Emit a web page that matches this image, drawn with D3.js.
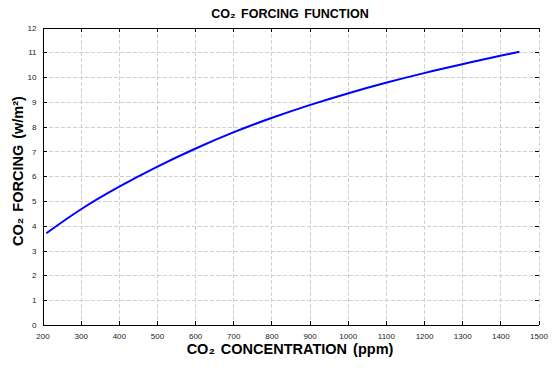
<!DOCTYPE html>
<html>
<head>
    <title>CO2 Forcing Function - D3.js</title>
    <script src="https://d3js.org/d3.v7.min.js"></script>
    <style>
        body { margin: 0; background: #fff; }
        svg { display: block; font-family: "Liberation Sans", Arial, sans-serif; }
        .grid line { stroke: #d0d0d0; stroke-dasharray: 4,2; shape-rendering: crispEdges; }
        .grid path { display: none; }
        .axis path, .axis line { stroke: #000; shape-rendering: crispEdges; }
        .axis text { font-size: 8px; fill: #222; }
        .title { font-size: 12.5px; font-weight: bold; text-anchor: middle; word-spacing: 2px; }
        .axis-title { font-size: 14.5px; font-weight: bold; text-anchor: middle; word-spacing: 2px; }
    </style>
</head>
<body>
<div id="chart"></div>
<script>
    // data
    const ppm = [210, 300, 400, 500, 600, 700, 800, 900, 1000, 1100, 1200, 1300, 1400, 1450];
    const forcing = [3.70, 4.66, 5.57, 6.38, 7.11, 7.77, 8.35, 8.87, 9.34, 9.77, 10.16, 10.52, 10.86, 11.02];
    const xTicks = d3.range(200, 1501, 100);
    const yTicks = d3.range(0, 13, 1);

    const W = 559, H = 368;
    const margin = { top: 27.5, right: 20.5, bottom: 43, left: 42.5 };
    const width = W - margin.left - margin.right;
    const height = H - margin.top - margin.bottom;

    const svg = d3.select("#chart").append("svg")
        .attr("width", W).attr("height", H);
    const g = svg.append("g")
        .attr("transform", `translate(${margin.left},${margin.top})`);

    const x = d3.scaleLinear().domain([200, 1500]).range([0, width]);
    const y = d3.scaleLinear().domain([0, 12]).range([height, 0]);

    // grid
    g.append("g").attr("class", "grid")
        .call(d3.axisBottom(x).tickValues(xTicks.slice(1)).tickSize(height).tickFormat(""));
    g.append("g").attr("class", "grid")
        .call(d3.axisRight(y).tickValues(yTicks.slice(1)).tickSize(width).tickFormat(""));

    // axes
    const fmt = d3.format("d");
    g.append("g").attr("class", "axis")
        .attr("transform", `translate(0,${height})`)
        .call(d3.axisBottom(x).tickValues(xTicks).tickFormat(fmt).tickSizeInner(-4).tickSizeOuter(0).tickPadding(8));
    g.append("g").attr("class", "axis")
        .call(d3.axisLeft(y).tickValues(yTicks).tickFormat(fmt).tickSizeInner(-4).tickSizeOuter(0).tickPadding(6));
    g.append("g").attr("class", "axis")
        .call(d3.axisTop(x).tickValues(xTicks).tickSizeInner(-4).tickSizeOuter(0).tickFormat(""));
    const right = g.append("g").attr("class", "axis")
        .attr("transform", `translate(${width},0)`)
        .call(d3.axisRight(y).tickValues(yTicks).tickSizeInner(-4).tickSizeOuter(0).tickFormat(""));
    right.select(".domain").remove();

    // curve
    const pts = ppm.map((c, i) => [c, forcing[i]]);
    g.append("path")
        .datum(pts)
        .attr("fill", "none")
        .attr("stroke", "#0000ff")
        .attr("stroke-width", 2)
        .attr("d", d3.line().x(d => x(d[0])).y(d => y(d[1])).curve(d3.curveNatural));

    // titles
    svg.append("text").attr("class", "title")
        .attr("x", 290).attr("y", 17.5)
        .text("CO₂ FORCING FUNCTION");
    svg.append("text").attr("class", "axis-title")
        .attr("x", 290).attr("y", 354)
        .text("CO₂ CONCENTRATION (ppm)");
    svg.append("text").attr("class", "axis-title")
        .attr("transform", "translate(23,171) rotate(-90)")
        .text("CO₂ FORCING (w/m²)");
</script>
</body>
</html>
